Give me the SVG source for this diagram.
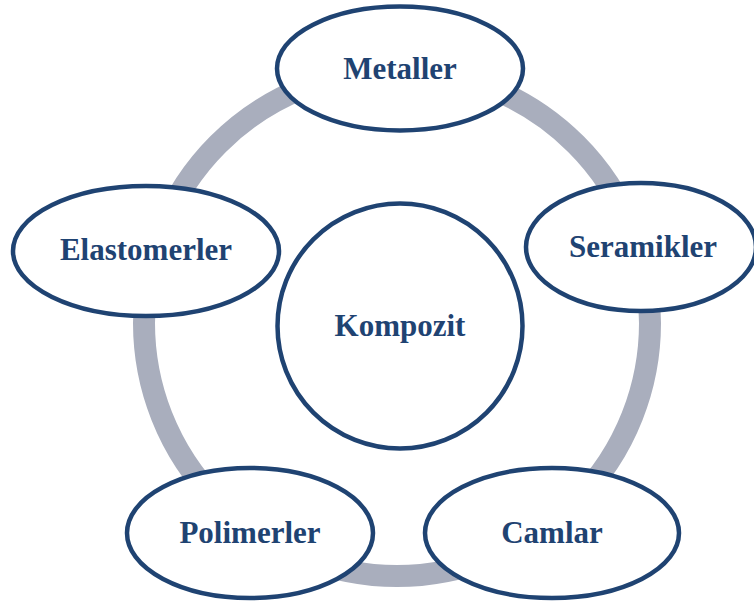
<svg xmlns="http://www.w3.org/2000/svg" width="754" height="603" viewBox="0 0 754 603">
<style>
.n{fill:#fff;stroke:#1F4372;stroke-width:4.5}
.t{font-family:"Liberation Serif","Times New Roman",serif;font-weight:bold;font-size:31px;fill:#1F4372;text-anchor:middle}
</style>
<rect width="754" height="603" fill="#fff"/>
<g id="connectors">
<circle cx="397" cy="323" r="253" fill="none" stroke="#A9AEBD" stroke-width="22"/>
</g>
<g id="kompozit"><circle class="n" cx="400" cy="326" r="122.5"/><text class="t" x="400" y="336">Kompozit</text></g>
<g id="metaller"><ellipse class="n" cx="400" cy="68.5" rx="123" ry="62"/><text class="t" x="400" y="79">Metaller</text></g>
<g id="seramikler"><ellipse class="n" cx="641" cy="247" rx="115" ry="64"/><text class="t" x="643" y="257">Seramikler</text></g>
<g id="elastomerler"><ellipse class="n" cx="146" cy="251" rx="133" ry="65"/><text class="t" x="146" y="260">Elastomerler</text></g>
<g id="polimerler"><ellipse class="n" cx="250" cy="533" rx="123" ry="65"/><text class="t" x="250" y="543">Polimerler</text></g>
<g id="camlar"><ellipse class="n" cx="552" cy="533" rx="127" ry="65"/><text class="t" x="552" y="543">Camlar</text></g>
</svg>
